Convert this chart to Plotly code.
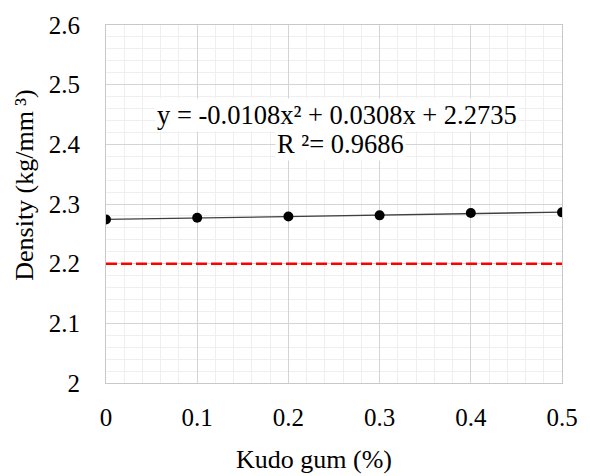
import numpy as np
import plotly.graph_objects as go

kudo_gum = [0.0, 0.1, 0.2, 0.3, 0.4, 0.5]
density = [2.274, 2.277, 2.279, 2.281, 2.285, 2.286]
reference_density = 2.2
x_ticks = [0, 0.1, 0.2, 0.3, 0.4, 0.5]
x_tick_labels = ["0", "0.1", "0.2", "0.3", "0.4", "0.5"]
y_ticks = [2.0, 2.1, 2.2, 2.3, 2.4, 2.5, 2.6]
y_tick_labels = ["2", "2.1", "2.2", "2.3", "2.4", "2.5", "2.6"]
equation_text = "y = -0.0108x² + 0.0308x + 2.2735"
r2_text = "R ²= 0.9686"
x_title = "Kudo gum (%)"
y_title = "Density (kg/mm\u2009³)"

coef = np.polyfit(kudo_gum, density, 2)
xf = np.linspace(min(kudo_gum), max(kudo_gum), 100)
yf = np.polyval(coef, xf)

font_family = "Liberation Serif, Times New Roman, serif"

fig = go.Figure()
fig.add_trace(go.Scatter(x=[min(kudo_gum), max(kudo_gum)], y=[reference_density]*2, mode="lines",
                         line=dict(color="#ff0000", width=2.5, dash="11px,4px"), showlegend=False))
fig.add_trace(go.Scatter(x=xf, y=yf, mode="lines", line=dict(color="#404040", width=1.3), showlegend=False))
fig.add_trace(go.Scatter(x=kudo_gum, y=density, mode="markers",
                         marker=dict(color="black", size=10), showlegend=False))

fig.add_annotation(x=0.253, y=2.45, xref="x", yref="y", text=equation_text, showarrow=False,
                   font=dict(size=26.5, color="black", family=font_family), bgcolor="white")
fig.add_annotation(x=0.257, y=2.40, xref="x", yref="y", text=r2_text, showarrow=False,
                   font=dict(size=26.5, color="black", family=font_family), bgcolor="white")

fig.add_annotation(x=(315-106)/458, y=(383-461)/366, xref="paper", yref="paper", text=x_title,
                   xanchor="center", yanchor="middle",
                   showarrow=False, font=dict(size=26, color="black", family=font_family))
fig.add_annotation(x=(24-106)/458, y=(383-181)/366, xref="paper", yref="paper", text=y_title,
                   xanchor="center", yanchor="middle",
                   textangle=-90, showarrow=False, font=dict(size=26, color="black", family=font_family))

axis_common = dict(showline=True, linecolor="#c8c8c8", linewidth=1, mirror=True,
                   gridcolor="#d4d4d4", gridwidth=1, zeroline=False, ticks="",
                   tickfont=dict(size=25, color="black", family=font_family))
fig.update_xaxes(range=[0, 0.5], tickvals=x_ticks, ticktext=x_tick_labels,
                 minor=dict(dtick=0.02, showgrid=True, gridcolor="#efefef", gridwidth=1),
                 ticklabelstandoff=12, **axis_common)
fig.update_yaxes(range=[2.0, 2.6], tickvals=y_ticks, ticktext=y_tick_labels,
                 minor=dict(dtick=0.02, showgrid=True, gridcolor="#efefef", gridwidth=1),
                 ticklabelstandoff=20, **axis_common)

fig.update_layout(width=590, height=476, margin=dict(l=106, r=26, t=17, b=93),
                  plot_bgcolor="white", paper_bgcolor="white", font=dict(family=font_family))
fig.write_html("out.html")
